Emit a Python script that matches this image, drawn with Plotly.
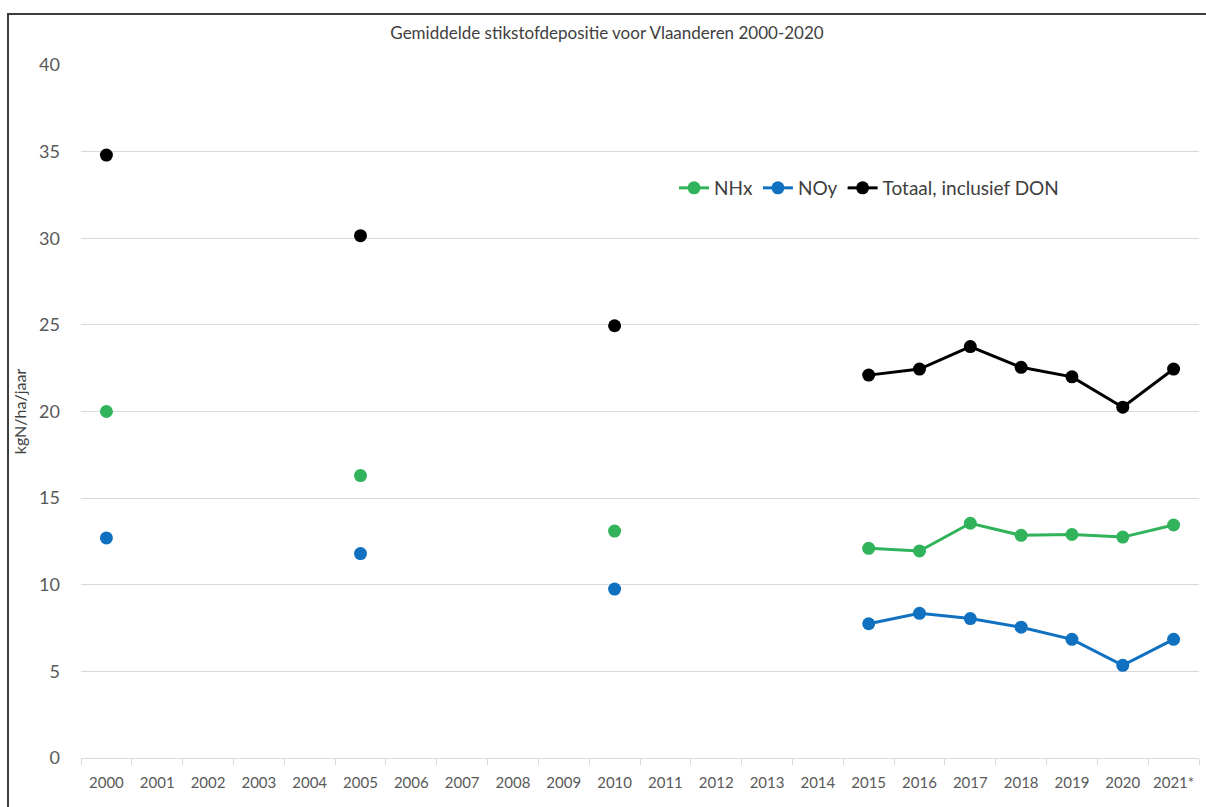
import plotly.graph_objects as go

years = ["2000", "2001", "2002", "2003", "2004", "2005", "2006", "2007", "2008", "2009",
         "2010", "2011", "2012", "2013", "2014", "2015", "2016", "2017", "2018", "2019",
         "2020", "2021*"]

nhx = [20.0, None, None, None, None, 16.3, None, None, None, None,
       13.1, None, None, None, None, 12.1, 11.95, 13.55, 12.85, 12.9, 12.75, 13.45]
noy = [12.7, None, None, None, None, 11.8, None, None, None, None,
       9.75, None, None, None, None, 7.75, 8.35, 8.05, 7.55, 6.85, 5.35, 6.85]
totaal = [34.8, None, None, None, None, 30.15, None, None, None, None,
          24.95, None, None, None, None, 22.1, 22.45, 23.75, 22.55, 22.0, 20.25, 22.45]

series = [("NHx", nhx, "#30b35a"), ("NOy", noy, "#1071c0"), ("Totaal, inclusief DON", totaal, "#000000")]

fig = go.Figure()
for name, vals, col in series:
    fig.add_trace(go.Scatter(
        x=years, y=vals, name=name, mode="lines+markers",
        line=dict(color=col, width=3), marker=dict(color=col, size=13),
        connectgaps=False,
    ))

FONT = "Lato"
TXT = "#595959"

L, R, T, B = 81, 7, 65, 49
W, H = 1206, 807
pw, ph = W - L - R, H - T - B

def px_x(p):
    return (p - L) / pw

def px_y(p):
    return (H - B - p) / ph

fig.update_layout(
    width=W, height=H,
    margin=dict(l=L, r=R, t=T, b=B),
    paper_bgcolor="white", plot_bgcolor="white",
    font=dict(family=FONT, color=TXT, size=14),
    title=dict(text="Gemiddelde stikstofdepositie voor Vlaanderen 2000-2020",
               x=607 / W, xanchor="center", y=1 - 33 / H, yanchor="middle",
               font=dict(family=FONT, size=17, color="#404040")),
    showlegend=True,
    legend=dict(orientation="h", x=px_x(674), xanchor="left", y=px_y(188), yanchor="middle",
                font=dict(family=FONT, size=19, color="#404040"),
                itemwidth=30, bgcolor="rgba(0,0,0,0)", traceorder="normal"),
    xaxis=dict(type="category", categoryorder="array", categoryarray=years,
               range=[-0.5, len(years) - 0.5], autorange=False,
               showgrid=False, showline=True, linecolor="#d9d9d9", linewidth=1,
               ticks="outside", tickson="boundaries", ticklen=6, tickcolor="#d9d9d9",
               tickangle=0,
               tickfont=dict(family=FONT, size=15, color=TXT), ticklabelstandoff=11,
               zeroline=False, fixedrange=True),
    yaxis=dict(range=[0, 40], dtick=5, tick0=0, showgrid=True, gridcolor="#d9d9d9",
               gridwidth=1, zeroline=False, showline=False, ticks="",
               tickfont=dict(family=FONT, size=18, color=TXT), ticklabelstandoff=20,
               title=dict(text="kgN/ha/jaar", font=dict(family=FONT, size=16, color="#404040"),
                          standoff=8),
               fixedrange=True),
    shapes=[dict(type="rect", xref="paper", yref="paper",
                 x0=px_x(8), x1=px_x(1215), y0=px_y(830), y1=px_y(14),
                 line=dict(color="#3c3c3c", width=2), fillcolor="rgba(0,0,0,0)", layer="above")],
)

fig.write_html("out.html")
